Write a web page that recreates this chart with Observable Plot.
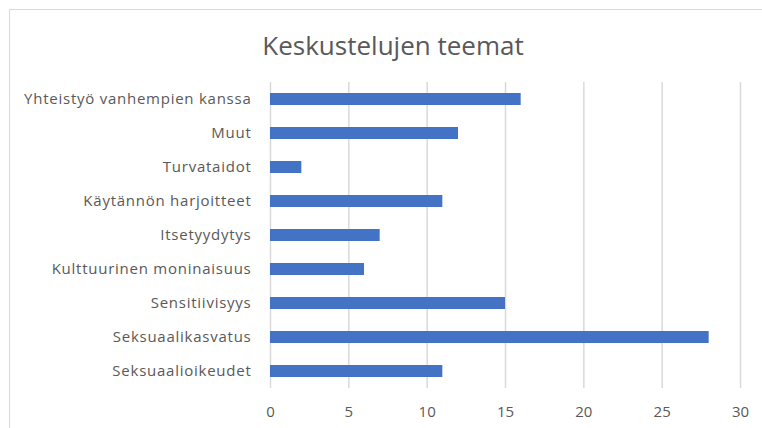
<!DOCTYPE html>
<html>
<head>
<meta charset="utf-8">
<script src="https://cdn.jsdelivr.net/npm/d3@7"></script>
<script src="https://cdn.jsdelivr.net/npm/@observablehq/plot@0.6"></script>
<style>
  html, body { margin: 0; padding: 0; background: #fff; overflow: hidden; }
  #wrap { position: relative; width: 762px; height: 428px; overflow: hidden; }
  #frame { position: absolute; left: 9px; top: 9px; width: 800px; height: 500px; border: 1.5px solid #d9d9d9; box-sizing: border-box; }
  #title { position: absolute; left: 0; width: 786px; top: 27px; text-align: center; font-family: "Open Sans", sans-serif; font-size: 26px; line-height: normal; color: #595959; white-space: nowrap; }
  #chart { position: absolute; left: 0; top: 0; }
  #chart svg g[aria-label="y-axis tick label"] text { letter-spacing: 0.75px; }
</style>
</head>
<body>
<div id="wrap">
  <div id="frame"></div>
  <div id="chart"></div>
  <div id="title">Keskustelujen teemat</div>
</div>
<script>
const categories = [
  "Yhteistyö vanhempien kanssa",
  "Muut",
  "Turvataidot",
  "Käytännön harjoitteet",
  "Itsetyydytys",
  "Kulttuurinen moninaisuus",
  "Sensitiivisyys",
  "Seksuaalikasvatus",
  "Seksuaalioikeudet"
];
const values = [16, 12, 2, 11, 7, 6, 15, 28, 11];
const xTicks = [0, 5, 10, 15, 20, 25, 30];

const data = categories.map((c, i) => ({category: c, value: values[i]}));

const chart = Plot.plot({
  width: 762,
  height: 428,
  marginLeft: 270,
  marginRight: 22,
  marginTop: 82,
  marginBottom: 40,
  style: {fontFamily: "'Open Sans', sans-serif", fontSize: "15px", color: "#595959", background: "transparent"},
  x: {domain: [0, 30], ticks: xTicks, label: null},
  y: {domain: categories, paddingInner: 0.65, paddingOuter: 0.325, label: null},
  marks: [
    Plot.gridX(xTicks, {stroke: "#d9d9d9", strokeOpacity: 1, strokeWidth: 1.5}),
    Plot.barX(data, {x: "value", y: "category", fill: "#4472C4"}),
    Plot.axisX({ticks: xTicks, tickSize: 0, tickPadding: 18, fontSize: 15, label: null}),
    Plot.axisY({tickSize: 0, tickPadding: 19, fontSize: 15, label: null})
  ]
});
document.getElementById("chart").appendChild(chart);
</script>
</body>
</html>
